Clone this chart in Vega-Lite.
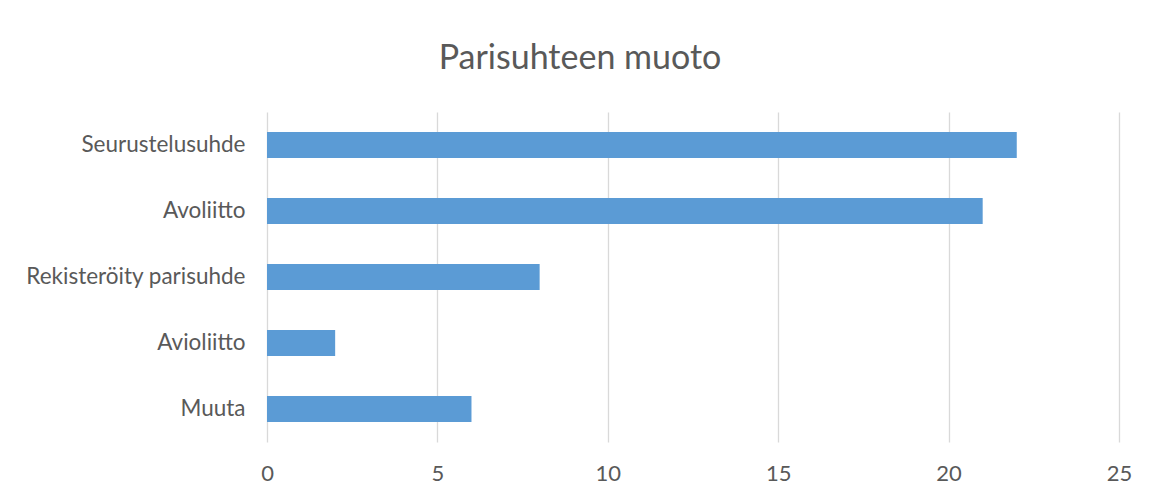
{
  "$schema": "https://vega.github.io/schema/vega-lite/v6.json",
  "autosize": {"type": "none"},
  "padding": {"left": 267, "top": 112, "right": 30, "bottom": 55},
  "width": 852,
  "height": 330,
  "background": "white",
  "title": {
    "text": "Parisuhteen muoto",
    "font": "Lato",
    "fontSize": 34,
    "fontWeight": "normal",
    "color": "#595959",
    "anchor": "middle",
    "dx": -113,
    "dy": 32,
    "baseline": "alphabetic",
    "offset": 41
  },
  "data": {
    "values": [
      {"muoto": "Seurustelusuhde", "lkm": 22},
      {"muoto": "Avoliitto", "lkm": 21},
      {"muoto": "Rekisteröity parisuhde", "lkm": 8},
      {"muoto": "Avioliitto", "lkm": 2},
      {"muoto": "Muuta", "lkm": 6}
    ]
  },
  "mark": {"type": "bar", "color": "#5b9bd5"},
  "encoding": {
    "y": {
      "field": "muoto",
      "type": "nominal",
      "sort": null,
      "scale": {"paddingInner": 0.606, "paddingOuter": 0.303},
      "axis": {
        "title": null,
        "ticks": false,
        "domain": false,
        "labelPadding": 22,
        "labelFont": "Lato",
        "labelFontSize": 22.5,
        "labelColor": "#595959",
        "labelLimit": 400
      }
    },
    "x": {
      "field": "lkm",
      "type": "quantitative",
      "scale": {"domain": [0, 25], "nice": false},
      "axis": {
        "title": null,
        "values": [0, 5, 10, 15, 20, 25],
        "ticks": false,
        "domain": false,
        "grid": true,
        "gridColor": "#d9d9d9",
        "gridWidth": 1.3,
        "labelPadding": 21,
        "labelFont": "Lato",
        "labelFontSize": 22,
        "labelColor": "#595959",
        "labelFlush": false
      }
    }
  },
  "config": {"view": {"stroke": null}}
}
